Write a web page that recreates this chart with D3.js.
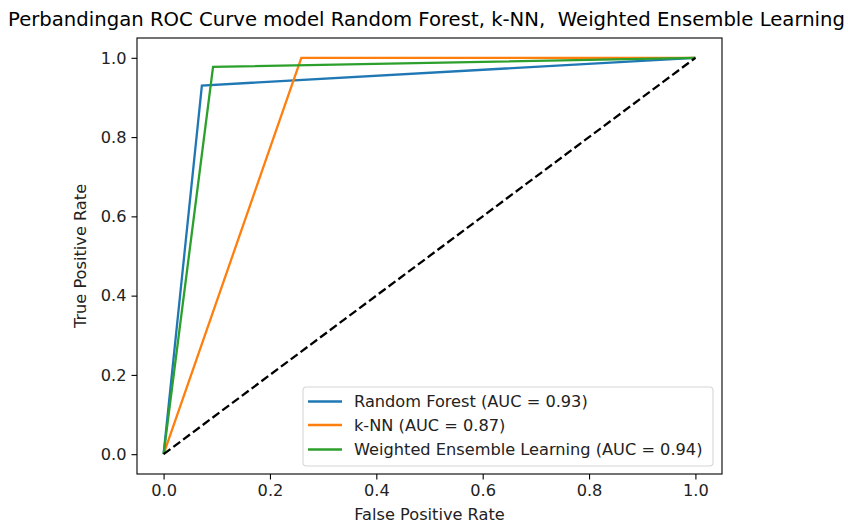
<!DOCTYPE html>
<html>
<head>
<meta charset="utf-8">
<script src="https://cdn.jsdelivr.net/npm/d3@7"></script>
<style>
  html, body { margin: 0; padding: 0; background: #fff; }
  svg { display: block; font-family: "DejaVu Sans", sans-serif; }
  text { white-space: pre; }
</style>
</head>
<body>
<svg id="chart" width="848" height="525"></svg>
<script>
// ROC points (false positive rate, true positive rate) per model
const modelNames = ["Random Forest", "k-NN", "Weighted Ensemble Learning"];
const modelAUC = [0.93, 0.87, 0.94];
const modelColors = ["#1f77b4", "#ff7f0e", "#2ca02c"];
const rfFPR = [0.0, 0.072, 1.0];
const rfTPR = [0.0, 0.930, 1.0];
const knnFPR = [0.0, 0.259, 1.0];
const knnTPR = [0.0, 1.0, 1.0];
const welFPR = [0.0, 0.093, 1.0];
const welTPR = [0.0, 0.977, 1.0];
const chanceFPR = [0.0, 1.0];
const chanceTPR = [0.0, 1.0];
const xTicks = [0.0, 0.2, 0.4, 0.6, 0.8, 1.0];
const yTicks = [0.0, 0.2, 0.4, 0.6, 0.8, 1.0];

const titleText = "Perbandingan ROC Curve model Random Forest, k-NN,  Weighted Ensemble Learning";
const xLabel = "False Positive Rate";
const yLabel = "True Positive Rate";

const svg = d3.select("#chart");
const box = { left: 137, right: 722, top: 38, bottom: 474 };
const fs = 16.2;
const textColor = "#222";

const x = d3.scaleLinear().domain([-0.05, 1.05]).range([box.left, box.right]);
const y = d3.scaleLinear().domain([-0.05, 1.05]).range([box.bottom, box.top]);

// Axes
const xAxis = svg.append("g")
  .attr("transform", `translate(0,${box.bottom})`)
  .call(d3.axisBottom(x).tickValues(xTicks).tickFormat(d3.format(".1f")).tickSize(5.5).tickPadding(5));
const yAxis = svg.append("g")
  .attr("transform", `translate(${box.left},0)`)
  .call(d3.axisLeft(y).tickValues(yTicks).tickFormat(d3.format(".1f")).tickSize(5.5).tickPadding(5));
[xAxis, yAxis].forEach(g => {
  g.select(".domain").remove();
  g.selectAll("line").attr("stroke", "#000").attr("stroke-width", 1.1);
  g.selectAll("text").attr("fill", textColor).style("font-size", fs + "px")
    .style("font-family", "DejaVu Sans, sans-serif");
});

// Curves
const line = d3.line().x(d => x(d[0])).y(d => y(d[1]));
const series = [
  d3.zip(rfFPR, rfTPR),
  d3.zip(knnFPR, knnTPR),
  d3.zip(welFPR, welTPR)
];
series.forEach((pts, i) => {
  svg.append("path").attr("d", line(pts)).attr("fill", "none")
    .attr("stroke", modelColors[i]).attr("stroke-width", 2.3)
    .attr("stroke-linejoin", "miter").attr("stroke-linecap", "butt");
});
svg.append("path").attr("d", line(d3.zip(chanceFPR, chanceTPR)))
  .attr("fill", "none").attr("stroke", "#000").attr("stroke-width", 2.3)
  .attr("stroke-dasharray", "8.5,3.7");

// Frame
svg.append("rect").attr("x", box.left).attr("y", box.top)
  .attr("width", box.right - box.left).attr("height", box.bottom - box.top)
  .attr("fill", "none").attr("stroke", "#000").attr("stroke-width", 1.1);

// Legend
const lg = svg.append("g");
lg.append("rect").attr("x", 303).attr("y", 387).attr("width", 410).attr("height", 79)
  .attr("rx", 3.5).attr("fill", "#fff").attr("fill-opacity", 0.8)
  .attr("stroke", "#d6d6d6").attr("stroke-width", 1.1);
const rowY = [401.5, 425, 449.5];
modelNames.forEach((n, i) => {
  lg.append("line").attr("x1", 308).attr("x2", 342).attr("y1", rowY[i]).attr("y2", rowY[i])
    .attr("stroke", modelColors[i]).attr("stroke-width", 2.3);
  lg.append("text").attr("x", 354).attr("y", rowY[i]).attr("dy", "0.35em")
    .attr("fill", textColor).style("font-size", fs + "px")
    .text(`${n} (AUC = ${modelAUC[i].toFixed(2)})`);
});

// Titles
svg.append("text").attr("x", 426.5).attr("y", 26)
  .attr("text-anchor", "middle").attr("fill", "#000").style("font-size", "19px")
  .attr("textLength", 837).attr("lengthAdjust", "spacingAndGlyphs")
  .text(titleText);
svg.append("text").attr("x", (box.left + box.right) / 2).attr("y", 520)
  .attr("text-anchor", "middle").attr("fill", textColor).style("font-size", fs + "px")
  .text(xLabel);
svg.append("text").attr("transform", `translate(86,${(box.top + box.bottom) / 2}) rotate(-90)`)
  .attr("text-anchor", "middle").attr("fill", textColor).style("font-size", fs + "px")
  .text(yLabel);
</script>
</body>
</html>
